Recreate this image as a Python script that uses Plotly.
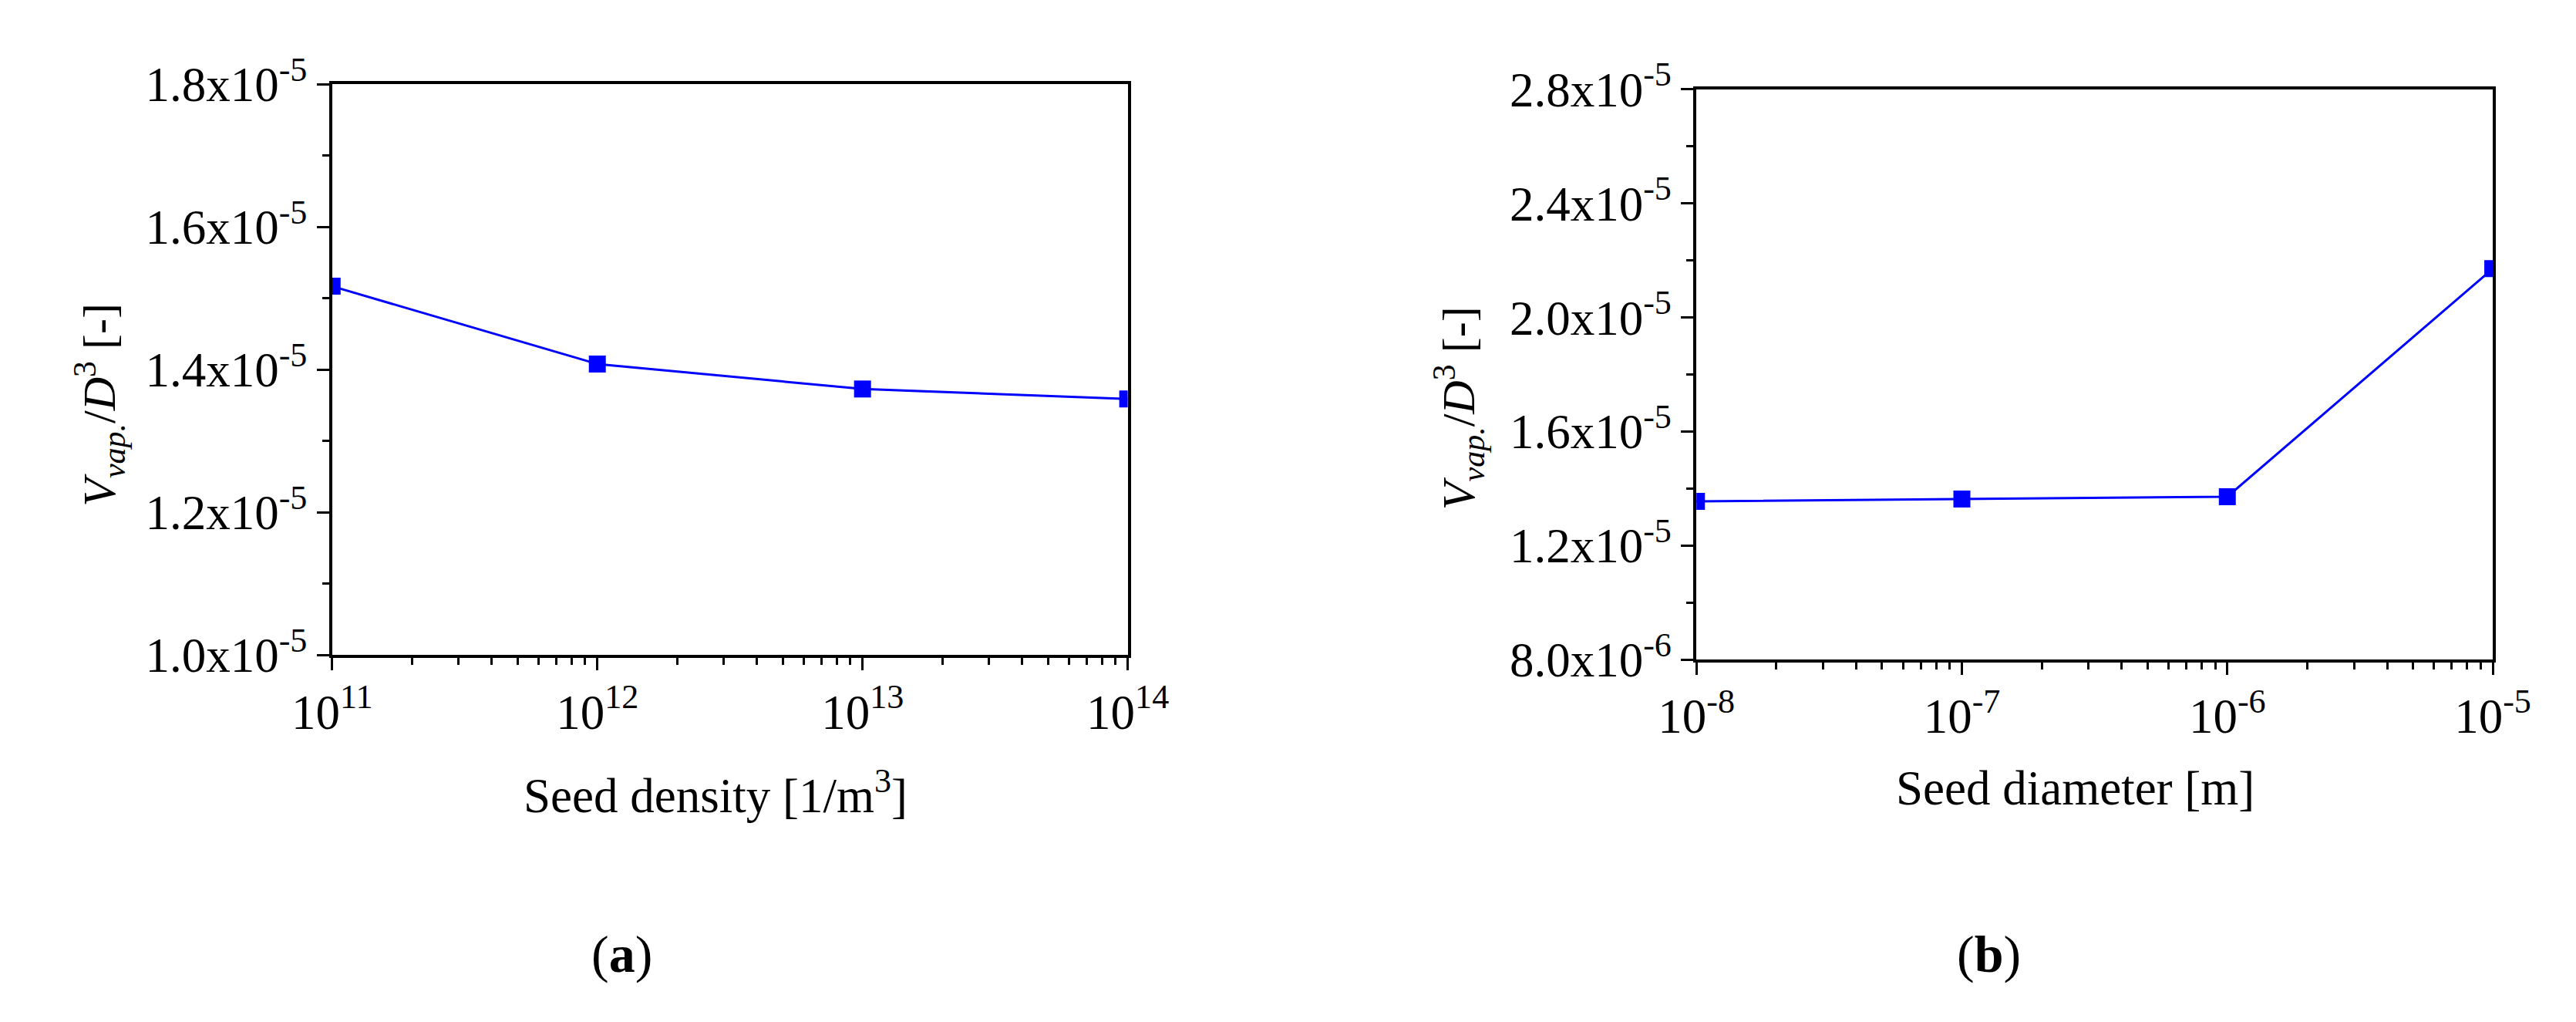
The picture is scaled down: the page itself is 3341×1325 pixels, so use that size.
import plotly.graph_objects as go

# panel (a): seed density sweep
density = [1e11, 1e12, 1e13, 1e14]
vap_density = [1.517e-5, 1.408e-5, 1.373e-5, 1.359e-5]

# panel (b): seed diameter sweep
diameter = [1e-8, 1e-7, 1e-6, 1e-5]
vap_diameter = [1.355e-5, 1.363e-5, 1.371e-5, 2.171e-5]

a_xticks = [1e11, 1e12, 1e13, 1e14]
a_xlabels = ['10<sup>11</sup>', '10<sup>12</sup>', '10<sup>13</sup>', '10<sup>14</sup>']
a_yticks = [1.0e-5, 1.2e-5, 1.4e-5, 1.6e-5, 1.8e-5]
a_ylabels = ['1.0x10<sup>-5</sup>', '1.2x10<sup>-5</sup>', '1.4x10<sup>-5</sup>',
             '1.6x10<sup>-5</sup>', '1.8x10<sup>-5</sup>']

b_xticks = [1e-8, 1e-7, 1e-6, 1e-5]
b_xlabels = ['10<sup>-8</sup>', '10<sup>-7</sup>', '10<sup>-6</sup>', '10<sup>-5</sup>']
b_yticks = [0.8e-5, 1.2e-5, 1.6e-5, 2.0e-5, 2.4e-5, 2.8e-5]
b_ylabels = ['8.0x10<sup>-6</sup>', '1.2x10<sup>-5</sup>', '1.6x10<sup>-5</sup>',
             '2.0x10<sup>-5</sup>', '2.4x10<sup>-5</sup>', '2.8x10<sup>-5</sup>']

W, H = 3341, 1325
FONT = 'Liberation Serif, Times New Roman, serif'
BLUE = '#0000ff'


def px(x):
    return x / W


def py(y):
    return 1 - y / H


def log_minor(lo, hi):
    return [k * 10.0 ** e for e in range(lo, hi) for k in range(2, 10)]


fig = go.Figure()
fig.add_scatter(x=density, y=vap_density, xaxis='x', yaxis='y', mode='lines+markers',
                line=dict(color=BLUE, width=3),
                marker=dict(symbol='square', size=22, color=BLUE))
fig.add_scatter(x=diameter, y=vap_diameter, xaxis='x2', yaxis='y2', mode='lines+markers',
                line=dict(color=BLUE, width=3),
                marker=dict(symbol='square', size=22, color=BLUE))
fig.update_traces(showlegend=False)

common = dict(showgrid=False, zeroline=False, showline=True, linecolor='black', linewidth=3.5,
              mirror=True, ticks='outside', ticklen=16, tickwidth=3, tickcolor='black',
              tickfont=dict(family=FONT, size=63, color='black'))

fig.update_layout(
    width=W, height=H,
    margin=dict(l=0, r=0, t=0, b=0),
    paper_bgcolor='white', plot_bgcolor='white',
    xaxis=dict(type='log', range=[11, 14], domain=[px(382), px(1448)], anchor='y',
               tickvals=a_xticks, ticktext=a_xlabels,
               minor=dict(tickvals=log_minor(11, 14), ticks='outside', ticklen=9,
                          tickwidth=3, tickcolor='black'), **common),
    yaxis=dict(range=[1.0e-5, 1.8e-5], domain=[py(849), py(62)], anchor='x',
               tickvals=a_yticks, ticktext=a_ylabels,
               minor=dict(dtick=0.1e-5, ticks='outside', ticklen=9,
                          tickwidth=3, tickcolor='black'), **common),
    xaxis2=dict(type='log', range=[-8, -5], domain=[px(2210), px(3277)], anchor='y2',
                tickvals=b_xticks, ticktext=b_xlabels,
                minor=dict(tickvals=log_minor(-8, -5), ticks='outside', ticklen=9,
                           tickwidth=3, tickcolor='black'), **common),
    yaxis2=dict(range=[0.8e-5, 2.8e-5], domain=[py(855), py(69)], anchor='x2',
                tickvals=b_yticks, ticktext=b_ylabels,
                minor=dict(dtick=0.2e-5, ticks='outside', ticklen=9,
                           tickwidth=3, tickcolor='black'), **common),
)

ytitle = '<i>V</i><sub><i>vap.</i></sub>/<i>D</i><sup>3</sup> [-]'
notes = [
    dict(text=ytitle, x=px(70), y=py(504), textangle=-90, size=60),
    dict(text=ytitle, x=px(1891), y=py(508), textangle=-90, size=60),
    dict(text='Seed density [1/m<sup>3</sup>]', x=px(896), y=py(1038), textangle=0, size=63),
    dict(text='Seed diameter [m]', x=px(2718), y=py(1033), textangle=0, size=63),
    dict(text='(<b>a</b>)', x=px(770), y=py(1261), textangle=0, size=68),
    dict(text='(<b>b</b>)', x=px(2602), y=py(1261), textangle=0, size=68),
]
for n in notes:
    fig.add_annotation(text=n['text'], x=n['x'], y=n['y'], xref='paper', yref='paper',
                       xanchor='center', yanchor='middle', textangle=n['textangle'],
                       showarrow=False, font=dict(family=FONT, size=n['size'], color='black'))

fig.write_html('out.html')
